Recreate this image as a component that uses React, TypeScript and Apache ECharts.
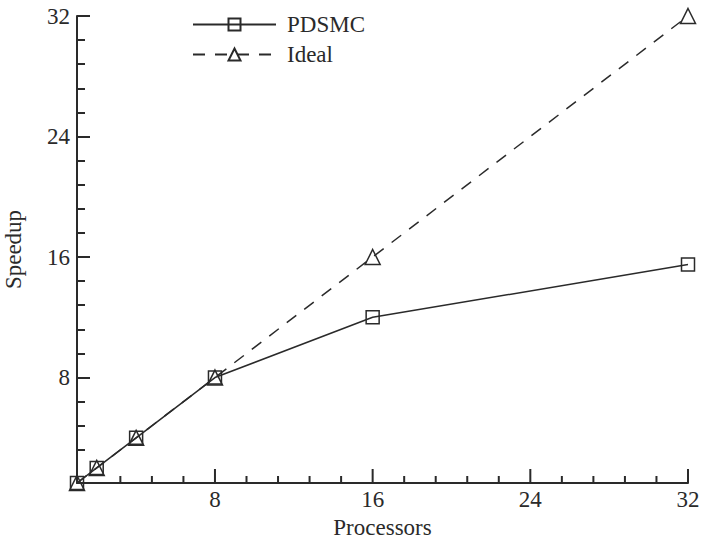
import React, { useEffect, useRef } from "react";
import * as echarts from "echarts";

const processors = [1, 2, 4, 8, 16, 32];
const pdsmc = [1, 2, 4, 8, 12, 15.5];
const ideal = [1, 2, 4, 8, 16, 32];
const majorTicks = [8, 16, 24, 32];
const minorTicks = [3.2, 4.8, 6.4, 9.6, 11.2, 12.8, 14.4, 17.6, 19.2, 20.8, 22.4, 25.6, 27.2, 28.8, 30.4];

const FONT = "'Liberation Serif', 'DejaVu Serif', serif";
const INK = "#2a2a2a";

const W = 702;
const H = 544;
const GRID = { left: 77, right: 14, top: 16, bottom: 61 };
const Y_MIN = 1;
const Y_MAX = 32;

export default function App() {
  const ref = useRef<HTMLDivElement>(null);
  useEffect(() => {
    if (!ref.current) return;
    const chart = echarts.init(ref.current, undefined, { renderer: "svg" });
    const plotH = H - GRID.top - GRID.bottom;
    const pxToData = (px: number) => (px * (Y_MAX - Y_MIN)) / plotH;

    const mainAxis = (name: string, isY: boolean) => ({
      type: "value",
      min: 1,
      max: 32,
      position: isY ? "left" : "bottom",
      offset: 0,
      name,
      nameLocation: "middle",
      nameGap: isY ? 52 : 20,
      nameRotate: isY ? 90 : 0,
      nameTextStyle: { fontFamily: FONT, fontSize: 23, color: INK },
      axisLine: { show: true, onZero: false, lineStyle: { color: INK, width: 2 } },
      axisTick: { show: false },
      axisLabel: {
        show: true,
        customValues: majorTicks,
        fontFamily: FONT,
        fontSize: 23,
        color: INK,
        margin: isY ? 7 : 5,
      },
      splitLine: { show: false },
    });
    const yTickAxis = (values: number[], len: number) => ({
      type: "value",
      min: 1,
      max: 32,
      position: "left",
      offset: 0,
      axisLine: { show: false, onZero: false },
      axisTick: {
        show: true,
        inside: true,
        length: len,
        customValues: values,
        lineStyle: { color: INK, width: 2 },
      },
      axisLabel: { show: false },
      splitLine: { show: false },
    });
    const xTickSeries = (name: string, values: number[], lenPx: number) => {
      const d = pxToData(lenPx);
      const data: any[] = [];
      values.forEach((v) => {
        data.push([v, Y_MIN]);
        data.push([v, Y_MIN + d]);
        data.push([v, "-"]);
      });
      return {
        name,
        type: "line",
        clip: false,
        silent: true,
        xAxisIndex: 0,
        yAxisIndex: 0,
        symbol: "none",
        connectNulls: false,
        data,
        lineStyle: { color: INK, width: 2, type: "solid" },
        itemStyle: { color: INK },
        z: 4,
      };
    };
    chart.setOption({
      animation: false,
      backgroundColor: "#ffffff",
      grid: { ...GRID, containLabel: false, outerBoundsMode: "none" },
      xAxis: [mainAxis("Processors", false)],
      yAxis: [mainAxis("Speedup", true), yTickAxis(majorTicks, 13), yTickAxis(minorTicks, 8)],
      legend: {
        left: 192,
        top: 13,
        padding: 0,
        orient: "vertical",
        itemWidth: 83,
        itemHeight: 15,
        itemGap: 7,
        textStyle: { fontFamily: FONT, fontSize: 23, color: INK, padding: [0, 0, 0, 6], lineHeight: 23 },
        data: ["PDSMC", "Ideal"],
      },
      series: [
        xTickSeries("xMajorTicks", majorTicks, 14),
        xTickSeries("xMinorTicks", minorTicks, 7),
        {
          name: "Ideal",
          type: "line",
          clip: false,
          xAxisIndex: 0,
          yAxisIndex: 0,
          data: processors.map((p, i) => [p, ideal[i]]),
          symbol: "triangle",
          symbolSize: 15,
          lineStyle: { color: INK, width: 1.5, type: [12, 10] },
          itemStyle: { color: "transparent", borderColor: INK, borderWidth: 1.5 },
          z: 2,
        },
        {
          name: "PDSMC",
          type: "line",
          clip: false,
          xAxisIndex: 0,
          yAxisIndex: 0,
          data: processors.map((p, i) => [p, pdsmc[i]]),
          symbol: "rect",
          symbolSize: 13,
          lineStyle: { color: INK, width: 1.5, type: "solid" },
          itemStyle: { color: "transparent", borderColor: INK, borderWidth: 1.5 },
          z: 3,
        },
      ],
    });
    return () => chart.dispose();
  }, []);
  return (
    <div
      ref={ref}
      style={{ position: "absolute", left: 0, top: 0, width: W, height: H, background: "#fff" }}
    />
  );
}
